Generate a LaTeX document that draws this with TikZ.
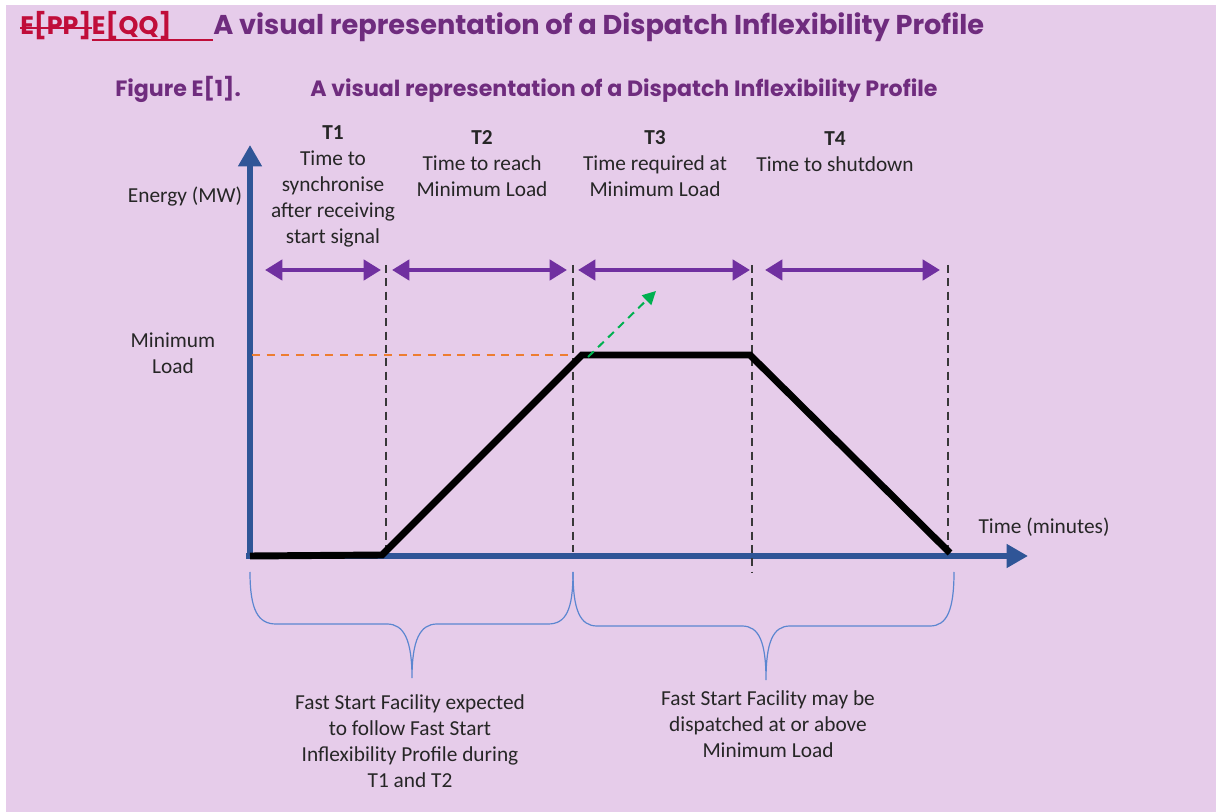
\documentclass[tikz,border=0pt]{standalone}
\usepackage{fontspec}
\setmainfont{Carlito}
\newfontfamily\headfont{Poppins}
\usetikzlibrary{arrows.meta,positioning,calc}
\definecolor{bgpink}{HTML}{E6CCEA}
\definecolor{headpurple}{HTML}{6F2C7E}
\definecolor{editred}{HTML}{C00D3A}
\definecolor{arrpurple}{HTML}{7030A0}
\definecolor{axisblue}{HTML}{2F5597}
\definecolor{braceblue}{HTML}{5B86D0}
\definecolor{loadorange}{HTML}{ED7D31}
\definecolor{rampgreen}{HTML}{00B050}
\definecolor{txt}{HTML}{262626}

\begin{document}
\begin{tikzpicture}
	[x=0.75pt,y=-0.75pt,
	every node/.style={inner sep=0pt,text=txt,font=\fontsize{16}{19.5}\selectfont},
	axis/.style={line width=5pt,axisblue,-{Triangle[length=16pt,width=17pt]}},
	profile/.style={line width=5.2pt,black},
	period/.style={line width=3.6pt,arrpurple,{Triangle[length=13pt,width=15pt]}-{Triangle[length=13pt,width=15pt]}},
	mark line/.style={line width=1.8pt,black!78,dash pattern=on 6pt off 4pt},
	brace line/.style={line width=0.9pt,braceblue},
	head/.style={anchor=base west,font=\headfont\fontsize{20.4}{23}\bfseries\selectfont,text=headpurple},
	edit/.style={anchor=base west,font=\headfont\fontsize{19}{23}\bfseries\selectfont,text=editred},
	subhead/.style={anchor=base west,font=\headfont\fontsize{16.6}{19}\bfseries\selectfont,text=headpurple},
	label/.style={align=center,anchor=north}]
	\fill[bgpink] (6,5) rectangle (1216,812);
	\useasboundingbox (0,0) rectangle (1221,812);

	% headings
	\node[edit] (pp) at (20,35) {E[PP]};
	\node[edit] (qq) at (pp.base east) {E[QQ]};
	\node[head] (hd) at (213,35) {A visual representation of a Dispatch Inflexibility Profile};
	\draw[editred,line width=1.5pt] ($(pp.west)+(0,2)$) -- ($(pp.east)+(0,2)$);
	\draw[editred,line width=1.5pt] ($(qq.base west)+(0,5)$) -- ($(hd.base west)+(0,5)$);
	\node[subhead] (fig) at (115,97) {Figure E[1].};
	\node[subhead] (figt) at (310,97) {A visual representation of a Dispatch Inflexibility Profile};

	% axes
	\coordinate (o) at (250,556);
	\coordinate (ytip) at (250,145);
	\coordinate (xtip) at (1028,556);
	\draw[axis] (o) -- (ytip);
	\draw[axis] ([xshift=-3pt]o) -- (xtip);

	% period boundaries
	\coordinate (d1) at (386,265);
	\coordinate (d2) at (573,265);
	\coordinate (d3) at (752,265);
	\coordinate (d4) at (948,265);
	\draw[mark line] (d1) -- (386,555);
	\draw[mark line] (d2) -- (573,552);
	\draw[mark line] (d3) -- (752,572);
	\draw[mark line] (d4) -- (948,555);

	% minimum load level and ramp
	\coordinate (ml) at (252,355);
	\coordinate (r0) at (382,555);
	\coordinate (r1) at (582,355);
	\coordinate (r2) at (750,355);
	\coordinate (r3) at (950,553);
	\draw[loadorange,line width=1.4pt,dash pattern=on 6pt off 5pt] (ml) -- (d2 |- ml);
	\draw[profile] (o) -- (r0) -- (r1) -- (r2) -- (r3);
	\coordinate (g1) at (656,291);
	\draw[rampgreen,line width=1.5pt,dash pattern=on 6pt off 4.5pt,-{Triangle[length=10pt,width=10pt]}] (588,357) -- (g1);

	% period arrows
	\foreach \a/\b [count=\i] in {265/381,392/567,578/750,765/940}{
		\coordinate (p\i a) at (\a,270);
		\coordinate (p\i b) at (\b,270);
		\draw[period] (p\i a) -- (p\i b);
	}

	% period labels
	\node[label] (t1) at (333,125) {\textbf{T1}\\Time to\\synchronise\\after receiving\\start signal};
	\node[label] (t2) at (482,130) {\textbf{T2}\\Time to reach\\Minimum Load};
	\node[label] (t3) at (655,130) {\textbf{T3}\\Time required at\\Minimum Load};
	\node[label] (t4) at (835,131) {\textbf{T4}\\Time to shutdown};

	% axis labels
	\node (ey) at (185,197) {Energy (MW)};
	\node[align=center] (mload) at (173,353) {Minimum\\Load};
	\node (tx) at (1044,527) {Time (minutes)};

	% braces
	\draw[brace line] (250,572) .. controls (250,610) and (258,624) .. (276,624) -- (387,624)
		.. controls (404,624) and (412,640) .. (412,678)
		.. controls (412,640) and (420,624) .. (437,624) -- (548,624)
		.. controls (566,624) and (573,610) .. (573,572);
	\draw[brace line] (573,572) .. controls (573,610) and (580,626) .. (597,626) -- (742,626)
		.. controls (759,626) and (766,642) .. (766,680)
		.. controls (766,642) and (773,626) .. (790,626) -- (930,626)
		.. controls (947,626) and (954,610) .. (954,572);
	\node[label] (b1) at (410,694) {Fast Start Facility expected\\to follow Fast Start\\Inflexibility Profile during\\T1 and T2};
	\node[label] (b2) at (768,690) {Fast Start Facility may be\\dispatched at or above\\Minimum Load};
\end{tikzpicture}
\end{document}
